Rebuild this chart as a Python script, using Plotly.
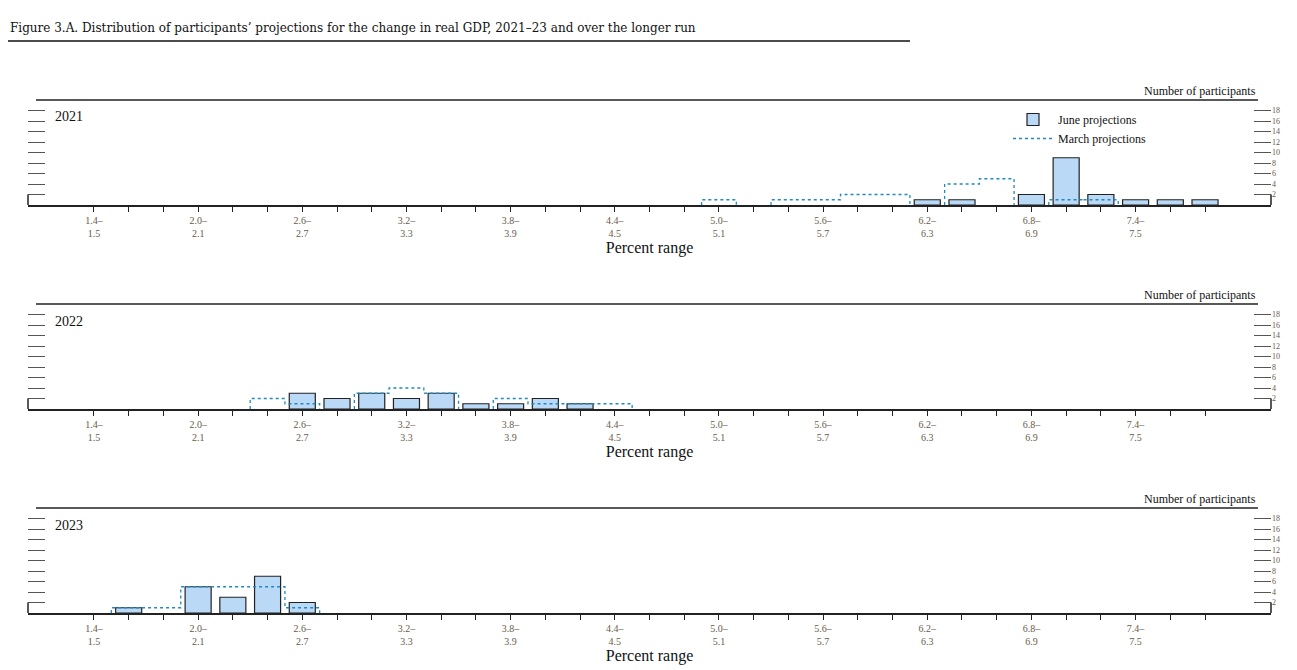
import plotly.graph_objects as go

# bins of 0.2 percentage points, labelled by their lower edge
bin_starts = [round(1.4 + 0.2 * i, 1) for i in range(33)]
years = ["2021", "2022", "2023"]

june_2021 = [0] * 24 + [1, 1, 0, 2, 9, 2, 1, 1, 1]
march_2021 = [0] * 18 + [1, 0, 1, 1, 2, 2, 0, 4, 5, 0, 1, 1, 0, 0, 0]
june_2022 = [0] * 6 + [3, 2, 3, 2, 3, 1, 1, 2, 1] + [0] * 18
march_2022 = [0] * 5 + [2, 1, 0, 3, 4, 3, 0, 2, 1, 1, 1] + [0] * 17
june_2023 = [0, 1, 0, 5, 3, 7, 2] + [0] * 26
march_2023 = [0, 1, 1, 5, 5, 5, 1] + [0] * 26

june = [june_2021, june_2022, june_2023]
march = [march_2021, march_2022, march_2023]

tick_text = [f"{b:.1f}–<br>{b + 0.1:.1f}" if i % 3 == 0 else "" for i, b in enumerate(bin_starts)]

FONT = "Liberation Serif"
W, H = 1297, 670
OFF = 8  # page margin of the html body
x0, x1 = 28, 1271
panel_tops = [100, 304, 508]
panel_h = 105


def px(x):
    return (x - OFF) / W


def py(y):
    return 1 - (y - OFF) / H


def step_outline(vals):
    sx, sy = [], []
    prev = 0
    for i, v in enumerate(vals + [0]):
        if v > 0 and prev == 0:
            sx += [None, i - 0.5]
            sy += [None, 0]
        if v > 0 or prev > 0:
            sx.append(i - 0.5)
            sy.append(v)
        prev = v
    return sx, sy


fig = go.Figure()
shapes = []
annotations = []

for k in range(3):
    xa = "x" if k == 0 else f"x{k + 1}"
    ya = "y" if k == 0 else f"y{k + 1}"
    idx = list(range(len(bin_starts)))
    fig.add_trace(go.Bar(
        x=idx, y=[v if v > 0 else None for v in june[k]], width=0.75, xaxis=xa, yaxis=ya,
        marker=dict(color="#b9d9f7", line=dict(color="#222", width=1.2)),
        name="June projections", showlegend=(k == 0), legendrank=1,
    ))
    sx, sy = step_outline(march[k])
    fig.add_trace(go.Scatter(
        x=sx, y=sy, mode="lines", line=dict(shape="hv", color="#1f8ac0", width=1.3, dash="dot"),
        xaxis=xa, yaxis=ya, name="March projections", showlegend=(k == 0), legendrank=2,
        connectgaps=False,
    ))

    top = panel_tops[k]
    bot = top + panel_h
    dom = [py(bot), py(top)]
    sfx = "" if k == 0 else str(k + 1)
    fig.layout["xaxis" + sfx] = dict(
        domain=[px(x0), px(x1)], range=[-1.9, 33.9], anchor=ya,
        tickvals=idx, ticktext=tick_text, ticks="outside", ticklen=5, tickcolor="#222",
        showline=True, linecolor="#222", linewidth=2, showgrid=False, zeroline=False,
        tickfont=dict(family=FONT, size=10, color="#6b5a4a"),
        title=dict(text="Percent range", font=dict(family=FONT, size=16, color="#111"), standoff=4),
    )
    fig.layout["yaxis" + sfx] = dict(
        domain=dom, range=[0, 20], anchor=xa, side="right",
        tickvals=list(range(2, 19, 2)), ticks="inside", ticklen=17, tickcolor="#555",
        showline=False, mirror="ticks", showgrid=False, zeroline=False,
        tickfont=dict(family=FONT, size=8, color="#6b5a4a"),
    )
    shapes.append(dict(type="line", xref="paper", yref="paper", x0=px(36), x1=px(1258),
                       y0=dom[1], y1=dom[1], line=dict(color="#222", width=1.3)))
    for xe in (x0, x1):
        shapes.append(dict(type="line", xref="paper", yref=ya, x0=px(xe), x1=px(xe),
                           y0=0, y1=2, line=dict(color="#222", width=1.5)))
    annotations.append(dict(text="Number of participants", xref="paper", yref="paper",
                            x=px(1258), y=dom[1], xanchor="right", yanchor="bottom", showarrow=False,
                            font=dict(family=FONT, size=12, color="#111")))
    annotations.append(dict(text=years[k], xref="paper", yref="paper", x=px(53), y=py(top + 17),
                            xanchor="left", yanchor="middle", showarrow=False,
                            font=dict(family=FONT, size=14, color="#111")))

annotations.append(dict(text="Figure 3.A. Distribution of participants’ projections for the change in real GDP, 2021–23 and over the longer run",
                        xref="paper", yref="paper", x=px(8), y=py(28), xanchor="left", yanchor="middle",
                        showarrow=False, font=dict(family="DejaVu Serif", size=12, color="#111")))
shapes.append(dict(type="line", xref="paper", yref="paper", x0=px(8), x1=px(910),
                   y0=py(41), y1=py(41), line=dict(color="#111", width=1.5)))

fig.update_layout(
    width=W, height=H, margin=dict(l=0, r=0, t=0, b=0),
    paper_bgcolor="white", plot_bgcolor="white", barmode="overlay",
    shapes=shapes, annotations=annotations,
    legend=dict(x=px(1008), y=py(105), xanchor="left", yanchor="top", bgcolor="rgba(0,0,0,0)",
                font=dict(family=FONT, size=12, color="#111"), tracegroupgap=0, itemwidth=40),
)

fig.write_html("out.html")
